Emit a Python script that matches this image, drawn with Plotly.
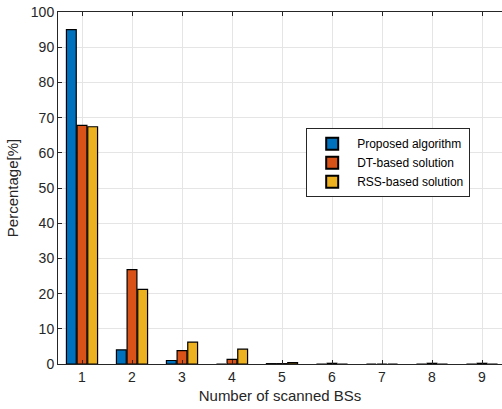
import plotly.graph_objects as go

categories = [1, 2, 3, 4, 5, 6, 7, 8, 9]
proposed = [95.0, 4.0, 1.0, 0.0, 0.1, 0.0, 0.0, 0.0, 0.0]
dt_based = [67.8, 26.8, 3.8, 1.3, 0.1, 0.2, 0.0, 0.2, 0.2]
rss_based = [67.4, 21.2, 6.2, 4.2, 0.4, 0.0, 0.0, 0.0, 0.0]
series_names = ["Proposed algorithm", "DT-based solution", "RSS-based solution"]
colors = ["#0072BD", "#D95319", "#EDB120"]

fig = go.Figure()
for name, vals, c in zip(series_names, [proposed, dt_based, rss_based], colors):
    fig.add_trace(go.Bar(x=categories, y=vals, name=name,
                         marker=dict(color=c, line=dict(color="#000000", width=1.2))))

font = "Liberation Sans, Arial, sans-serif"
fig.update_layout(
    width=502, height=409,
    margin=dict(l=58, r=0, t=12, b=45),
    paper_bgcolor="white", plot_bgcolor="white",
    barmode="group", bargap=0.36, bargroupgap=0.08,
    font=dict(family=font, size=14, color="#262626"),
    legend=dict(x=0.559, y=0.67, xanchor="left", yanchor="top",
                bgcolor="white", bordercolor="#262626", borderwidth=1,
                font=dict(size=12, color="#000000"), tracegroupgap=0,
                itemsizing="constant", itemwidth=40),
    showlegend=True,
)
fig.update_xaxes(range=[0.52, 9.4], tickmode="array", tickvals=categories,
                 showgrid=True, gridcolor="#e5e5e5", gridwidth=1,
                 showline=True, linecolor="#262626", linewidth=1, mirror="ticks",
                 ticks="inside", ticklen=4, tickcolor="#262626", layer="above traces",
                 title=dict(text="Number of scanned BSs", font=dict(size=15), standoff=6),
                 zeroline=False)
fig.update_yaxes(range=[0, 100], tickmode="array", tickvals=list(range(0, 101, 10)),
                 showgrid=True, gridcolor="#e5e5e5", gridwidth=1,
                 showline=True, linecolor="#262626", linewidth=1, mirror=False,
                 ticks="inside", ticklen=4, tickcolor="#262626", layer="above traces",
                 title=dict(text="Percentage[%]", font=dict(size=15), standoff=8),
                 zeroline=False)
fig.write_html("out.html")
